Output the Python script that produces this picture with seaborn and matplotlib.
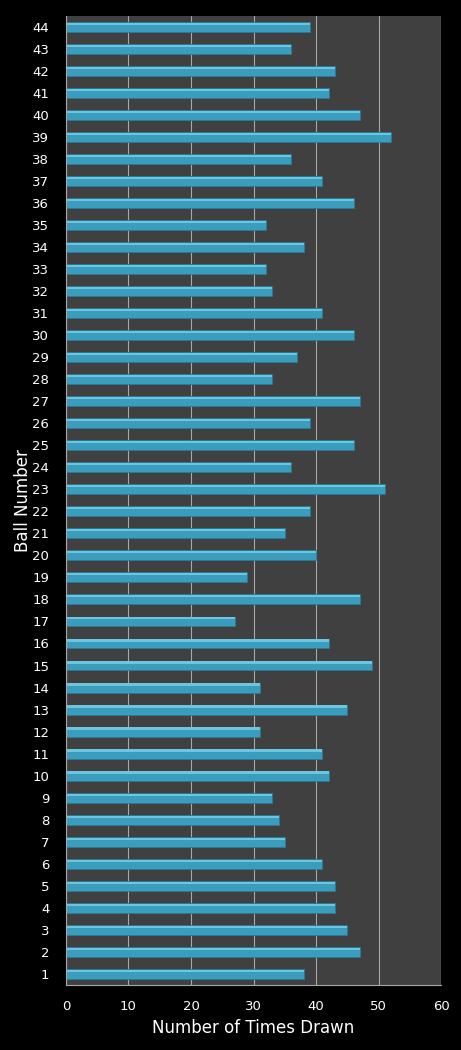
import pandas as pd
import numpy as np
import matplotlib
matplotlib.use("Agg")
import matplotlib.pyplot as plt
import seaborn as sns
from matplotlib.patches import Rectangle

# -----------------------------------
# DATA
# -----------------------------------

ball_numbers = list(range(1, 45))

times_drawn = [
    38, 47, 45, 43, 43, 41, 35, 34, 33, 42,
    41, 31, 45, 31, 49, 42, 27, 47, 29, 40,
    35, 39, 51, 36, 46, 39, 47, 33, 37, 46,
    41, 33, 32, 38, 32, 46, 41, 36, 52, 47,
    42, 43, 36, 39
]

x_ticks = [0, 10, 20, 30, 40, 50, 60]

df = pd.DataFrame({"ball": [str(b) for b in ball_numbers], "drawn": times_drawn})

# -----------------------------------
# STYLE
# -----------------------------------

sns.set_style("dark")
plt.rcParams["font.family"] = ["DejaVu Sans"]

fig = plt.figure(figsize=(4.61, 10.5), dpi=100, facecolor="black")
ax = fig.add_axes([0.143, 0.062, 0.814, 0.923])
ax.set_facecolor("#404040")

order = [str(b) for b in reversed(ball_numbers)]

sns.barplot(
    data=df,
    y="ball",
    x="drawn",
    order=order,
    orient="h",
    color="#3a9dbd",
    saturation=1,
    width=0.45,
    edgecolor="#2a7a96",
    linewidth=0.6,
    ax=ax
)

# highlight stripe on the top of every bar
for p in list(ax.patches):
    ax.add_patch(Rectangle(
        (p.get_x(), p.get_y() + p.get_height() * 0.08),
        p.get_width(),
        p.get_height() * 0.22,
        facecolor="#6cc6e0",
        edgecolor="none",
        zorder=p.get_zorder() + 0.1
    ))

ax.set_xlim(0, 60)
ax.set_xticks(x_ticks)
ax.set_ylim(len(order) - 0.5, -0.5)

ax.grid(axis="x", color="#a8a8a8", linewidth=0.8)
ax.grid(axis="y", visible=False)
ax.set_axisbelow(True)

for side in ["top", "right"]:
    ax.spines[side].set_visible(False)
for side in ["left", "bottom"]:
    ax.spines[side].set_visible(True)
    ax.spines[side].set_color("#a8a8a8")
    ax.spines[side].set_linewidth(0.8)

ax.tick_params(axis="y", colors="white", labelsize=9.5, length=0, pad=12)
ax.tick_params(axis="x", colors="white", labelsize=9.5, length=0, pad=11)

ax.set_xlabel("Number of Times Drawn", color="white", fontsize=12)
ax.set_ylabel("Ball Number", color="white", fontsize=12)
ax.xaxis.set_label_coords(0.5, -0.035)
ax.yaxis.set_label_coords(-0.091, 0.5)

fig.savefig("out.png", dpi=100, facecolor="black")
